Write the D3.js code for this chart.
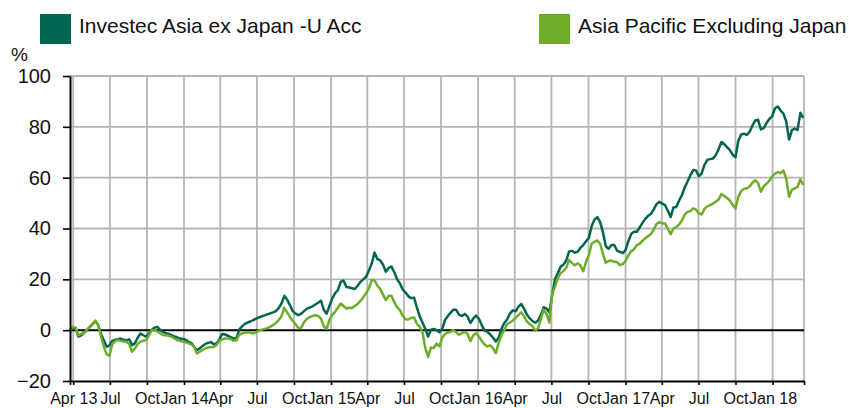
<!DOCTYPE html>
<html><head><meta charset="utf-8">
<script src="https://cdn.jsdelivr.net/npm/d3@7"></script>
<style>
html,body{margin:0;padding:0;background:#fff;}
svg{display:block;font-family:"Liberation Sans",Arial,Helvetica,sans-serif;}
</style></head><body>
<svg id="chart" width="849" height="408"></svg>
<script>
const seriesNames = ["Investec Asia ex Japan -U Acc", "Asia Pacific Excluding Japan"];
const seriesColors = ["#00664f", "#6fad29"];
const startDate = "2013-03-24";
const endDate = "2018-03-20";
const stepDays = 7;

const investec = [0.0,0.8,0.5,-2.5,-2.0,-1.0,0.0,1.2,2.4,3.6,
2.0,-1.5,-4.0,-6.5,-6.0,-4.2,-3.8,-3.6,-3.3,-3.8,
-4.0,-3.6,-5.9,-5.2,-3.0,-1.3,-2.0,-2.6,-1.2,0.2,
1.0,1.3,0.0,-0.7,-1.2,-1.5,-2.0,-2.5,-2.8,-3.3,
-3.5,-3.8,-4.6,-5.1,-6.5,-7.9,-7.2,-6.2,-5.4,-5.0,
-4.7,-5.5,-5.2,-3.5,-1.5,-1.7,-2.2,-2.7,-3.3,-3.3,
0.2,1.5,2.5,3.0,3.4,4.0,4.5,5.0,5.4,5.8,
6.2,6.6,7.0,7.5,8.7,10.5,13.5,12.0,9.8,7.5,
6.5,5.9,6.5,7.5,8.5,8.9,9.4,10.1,10.8,11.6,
8.0,6.5,9.5,12.5,14.5,15.8,19.0,19.5,17.0,16.8,
16.5,16.2,17.5,19.0,20.0,21.0,23.5,26.2,30.5,28.0,
27.5,25.8,23.0,24.5,25.0,22.8,20.0,18.4,16.0,14.8,
13.3,12.6,12.8,9.0,5.5,3.0,0.5,-2.5,0.2,0.5,
0.0,-0.8,0.5,4.0,5.6,6.9,8.1,7.9,6.0,5.6,
6.4,5.3,2.8,4.6,5.7,4.5,2.0,-0.2,-0.6,-1.7,
-2.9,-4.5,-3.0,0.5,2.8,4.2,6.5,7.8,7.4,9.2,
10.3,8.5,6.2,4.7,3.6,2.9,3.8,6.0,9.0,8.5,
7.0,14.0,20.0,22.5,25.0,25.8,27.5,31.0,31.2,30.5,
30.8,32.4,33.5,35.0,36.3,41.0,43.5,44.5,42.5,38.5,
33.0,32.0,33.5,33.5,31.3,30.8,30.3,31.5,35.0,37.8,
38.7,38.7,40.4,42.2,43.8,45.0,45.7,47.5,49.6,50.5,
49.8,49.2,47.0,44.5,48.3,48.5,51.0,53.2,56.2,58.5,
61.0,63.0,62.8,60.6,61.7,65.0,67.0,67.3,67.5,68.9,
71.2,74.0,73.2,72.0,70.8,69.0,68.0,74.5,77.0,77.3,
76.8,78.0,80.5,82.5,82.8,79.0,79.5,81.5,83.1,84.1,
87.3,88.0,86.4,85.2,82.0,75.0,78.7,79.3,78.8,85.5,
83.5];

const asiaPacific = [0.0,1.3,1.0,-2.0,-1.5,-1.0,0.2,1.3,2.6,3.8,
2.0,-2.5,-6.5,-9.5,-10.0,-5.5,-4.3,-3.9,-4.2,-4.5,
-4.6,-5.5,-8.5,-7.2,-5.5,-4.5,-4.2,-4.0,-2.0,0.0,
0.0,-0.6,-1.3,-2.0,-2.0,-2.2,-2.6,-3.2,-3.9,-4.2,
-4.5,-4.8,-5.2,-5.6,-6.5,-9.2,-8.5,-7.8,-7.1,-6.8,
-6.6,-6.6,-5.8,-4.2,-3.6,-3.3,-3.3,-3.5,-4.2,-4.0,
-1.8,-1.3,-0.9,-0.8,-1.0,-1.3,-0.8,-0.2,0.2,0.5,
0.8,1.3,2.0,2.8,4.0,5.5,8.8,7.0,5.2,3.6,
2.3,0.8,1.0,3.2,4.4,5.2,5.5,5.9,5.6,4.5,
1.5,0.5,4.0,6.0,7.2,8.8,10.5,9.5,8.5,8.8,
8.7,9.5,10.3,11.5,13.0,14.5,16.5,19.7,19.5,17.5,
16.2,14.0,11.8,13.5,13.5,11.0,9.0,7.9,5.6,4.3,
4.2,4.8,5.0,2.5,1.4,-0.8,-7.0,-10.5,-6.8,-7.0,
-5.3,-6.4,-3.0,-1.5,-0.9,-0.6,0.0,-0.9,-1.8,-1.2,
-0.7,-1.5,-4.3,-2.0,-1.2,-2.5,-4.2,-5.6,-6.4,-6.0,
-7.0,-9.0,-5.0,-2.0,0.0,2.3,3.0,3.8,4.8,5.9,
7.0,5.5,3.5,2.4,1.6,-0.3,0.8,4.5,8.0,6.5,
3.0,14.5,17.1,20.5,22.5,23.3,24.5,27.6,26.5,25.5,
26.3,25.5,23.2,27.0,29.5,34.1,34.7,35.3,34.0,30.0,
26.5,27.2,27.4,26.9,26.8,25.6,26.0,27.2,29.5,31.0,
31.8,33.5,34.0,35.1,36.2,37.0,37.8,39.6,41.8,42.5,
42.0,42.0,39.8,37.8,40.0,40.6,41.6,43.2,45.5,46.6,
46.8,47.9,47.4,46.0,45.5,47.8,48.7,49.2,49.8,50.5,
51.4,53.6,52.8,52.0,51.0,49.3,47.9,52.5,54.7,55.6,
55.8,56.5,58.0,59.0,57.8,54.5,56.6,57.6,58.8,60.5,
61.6,62.2,61.8,62.8,59.5,52.5,55.2,55.8,56.4,59.3,
57.2];

const xTickDates = ["2013-04-01","2013-07-01","2013-10-01","2014-01-01","2014-04-01","2014-07-01","2014-10-01","2015-01-01","2015-04-01","2015-07-01","2015-10-01","2016-01-01","2016-04-01","2016-07-01","2016-10-01","2017-01-01","2017-04-01","2017-07-01","2017-10-01","2018-01-01"];
const xTickLabels = ["Apr 13","Jul","Oct","Jan 14","Apr","Jul","Oct","Jan 15","Apr","Jul","Oct","Jan 16","Apr","Jul","Oct","Jan 17","Apr","Jul","Oct","Jan 18"];
const yTicks = [-20, 0, 20, 40, 60, 80, 100];
const yUnit = "%";

const parse = d3.utcParse("%Y-%m-%d");
const t0 = parse(startDate), t1 = parse(endDate);
const toSeries = arr => arr.map((v, i) => ({date: d3.utcDay.offset(t0, i * stepDays), value: v}));
const series = [toSeries(investec), toSeries(asiaPacific)];
const tickDates = xTickDates.map(parse);

const L = 70, R = 804, T = 76, B = 381;
const x = d3.scaleUtc().domain([t0, t1]).range([L, R]);
const y = d3.scaleLinear().domain([-20, 100]).range([B, T]);

const svg = d3.select("#chart");
const grid = "#b5b5b5";

// vertical grid
svg.append("g").selectAll("line").data(tickDates.concat([t1])).join("line")
  .attr("x1", d => x(d)).attr("x2", d => x(d))
  .attr("y1", T).attr("y2", B)
  .attr("stroke", grid).attr("stroke-width", 1.8);
// horizontal grid
svg.append("g").selectAll("line").data(yTicks.filter(v => v > 0)).join("line")
  .attr("x1", L).attr("x2", R)
  .attr("y1", d => y(d)).attr("y2", d => y(d))
  .attr("stroke", grid).attr("stroke-width", 1.8);
// zero line
svg.append("line").attr("x1", L).attr("x2", R).attr("y1", y(0)).attr("y2", y(0))
  .attr("stroke", "#000").attr("stroke-width", 2);

// series lines
const line = d3.line().x(d => x(d.date)).y(d => y(d.value));
series.forEach((s, k) => {
  svg.append("path").datum(s).attr("d", line)
    .attr("fill", "none").attr("stroke", seriesColors[k])
    .attr("stroke-width", 2.5).attr("stroke-linejoin", "round");
});

// y axis
const yAxis = svg.append("g").attr("transform", `translate(${L},0)`)
  .call(d3.axisLeft(y).tickValues(yTicks).tickSize(7).tickSizeOuter(0).tickPadding(12));
yAxis.select(".domain").attr("stroke", "#000").attr("stroke-width", 2);
yAxis.selectAll(".tick line").attr("stroke", "#000").attr("stroke-width", 1.6);
yAxis.selectAll(".tick text").attr("font-size", 20).attr("fill", "#111")
  .attr("font-family", "Liberation Sans, Arial, sans-serif");

// x axis
const xAxis = svg.append("g").attr("transform", `translate(0,${B})`)
  .call(d3.axisBottom(x).tickValues(tickDates.concat([t0, t1])).tickSize(4).tickSizeOuter(0)
    .tickFormat(d => { const i = tickDates.findIndex(t => +t === +d); return i >= 0 ? xTickLabels[i] : ""; }));
xAxis.select(".domain").attr("stroke", "#000").attr("stroke-width", 2);
xAxis.selectAll(".tick line").attr("stroke", "#000").attr("stroke-width", 1.6);
xAxis.selectAll(".tick text").attr("font-size", 16).attr("fill", "#111")
  .attr("y", 23).attr("dy", null)
  .attr("font-family", "Liberation Sans, Arial, sans-serif");

// unit label
svg.append("text").attr("x", 11).attr("y", 61).attr("font-size", 19).attr("fill", "#111").text(yUnit);

// legend
const legendPos = [{sx: 40, tx: 79}, {sx: 539, tx: 578}];
seriesNames.forEach((n, k) => {
  svg.append("rect").attr("x", legendPos[k].sx).attr("y", 14).attr("width", 31).attr("height", 30)
    .attr("fill", seriesColors[k]);
  svg.append("text").attr("x", legendPos[k].tx).attr("y", 33).attr("font-size", 21)
    .attr("fill", "#111").text(n);
});
</script>
</body></html>
